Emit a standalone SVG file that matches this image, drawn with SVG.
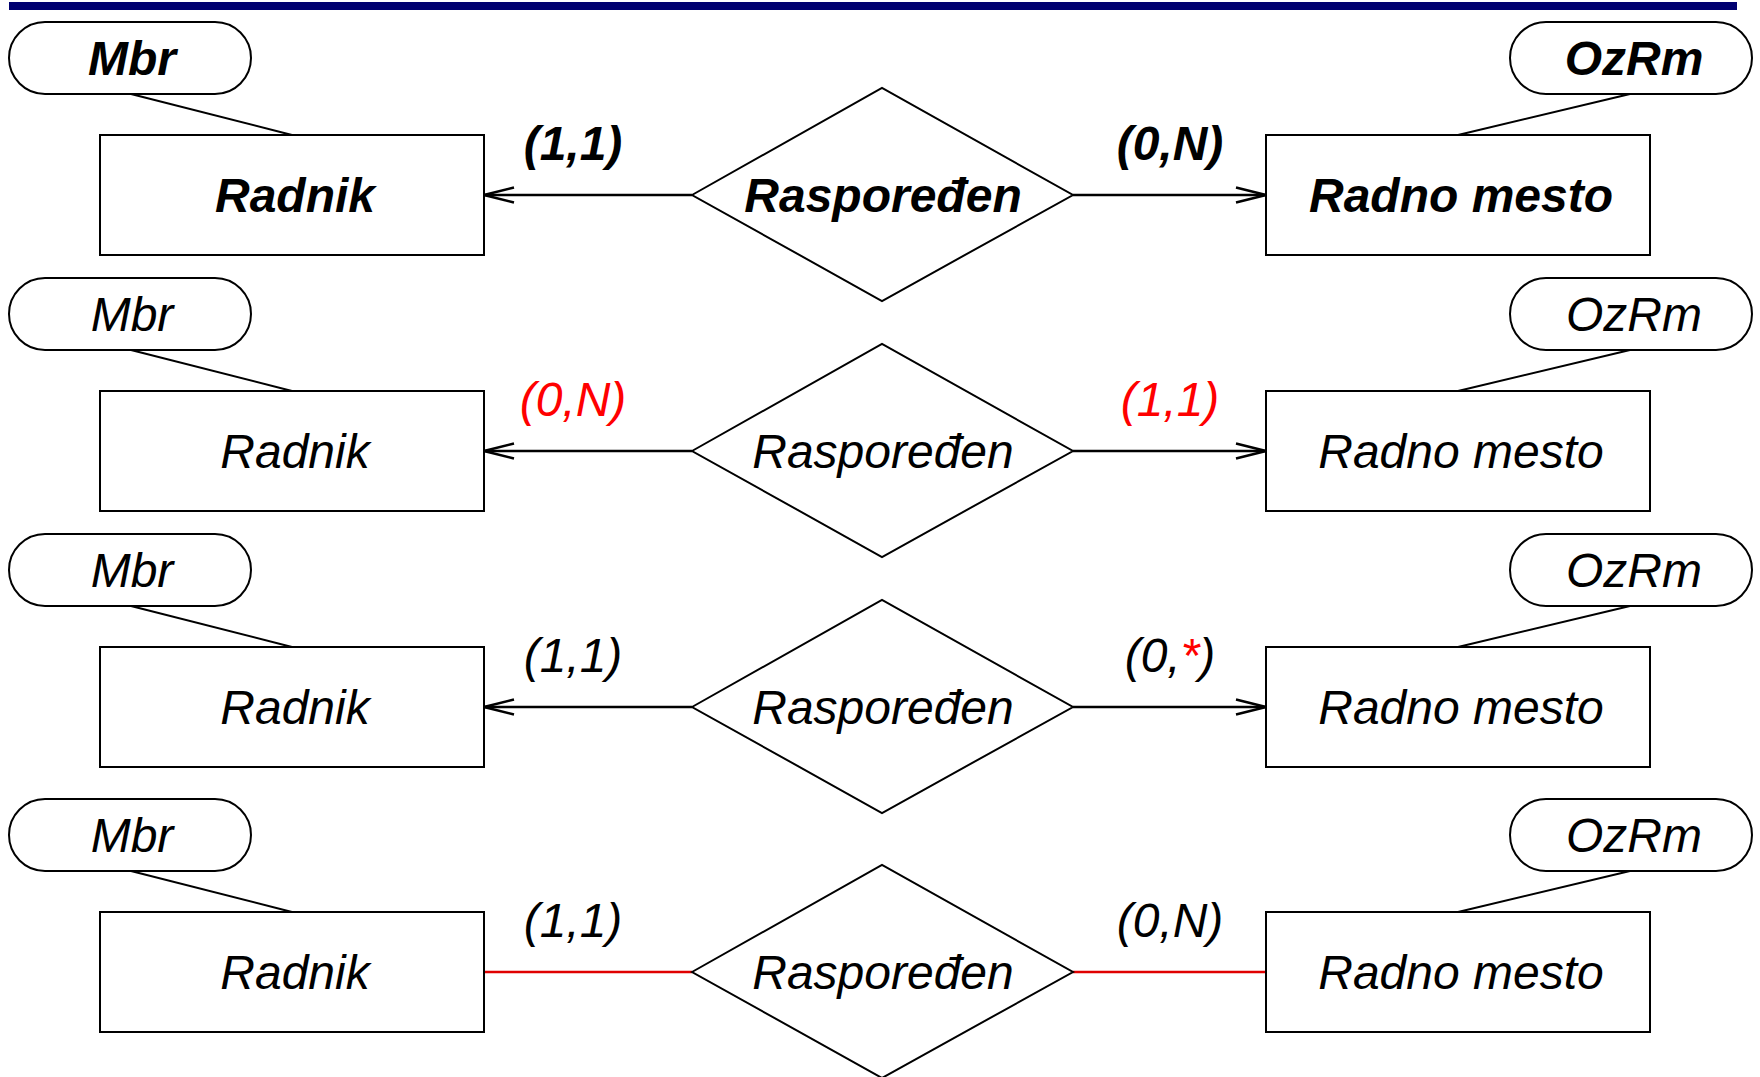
<svg xmlns="http://www.w3.org/2000/svg" width="1760" height="1077" viewBox="0 0 1760 1077">
<style>
text{font-family:"Liberation Sans",Arial,sans-serif;font-style:italic;font-size:48px;fill:#000;text-anchor:middle}
.b{font-weight:bold}
.red{fill:#ff0000}
.box{fill:#fff;stroke:#000;stroke-width:2}
.att{fill:#fff;stroke:#000;stroke-width:2}
.lk{stroke:#000;stroke-width:2;fill:none}
.cn{stroke:#000;stroke-width:2.5;fill:none}
.cr{stroke:#e00000;stroke-width:2.5;fill:none}
</style>
<defs>
<marker id="ar" markerUnits="userSpaceOnUse" markerWidth="34" markerHeight="20" viewBox="-2 -2 34 20" refX="30" refY="7.5" orient="auto" overflow="visible">
<path d="M0,0 L30,7.5 L0,15" fill="none" stroke="#000" stroke-width="2.5"/>
</marker>
</defs>
<rect x="9" y="2" width="1728" height="8" fill="#000070"/>

<g id="connectors">
<g>
<line class="lk" x1="131" y1="94" x2="292" y2="135"/>
<line class="lk" x1="1630" y1="94" x2="1458" y2="135"/>
<line class="cn" x1="692" y1="195" x2="484" y2="195" marker-end="url(#ar)"/>
<line class="cn" x1="1073" y1="195" x2="1266" y2="195" marker-end="url(#ar)"/>
</g>
<g transform="translate(0,256)">
<line class="lk" x1="131" y1="94" x2="292" y2="135"/>
<line class="lk" x1="1630" y1="94" x2="1458" y2="135"/>
<line class="cn" x1="692" y1="195" x2="484" y2="195" marker-end="url(#ar)"/>
<line class="cn" x1="1073" y1="195" x2="1266" y2="195" marker-end="url(#ar)"/>
</g>
<g transform="translate(0,512)">
<line class="lk" x1="131" y1="94" x2="292" y2="135"/>
<line class="lk" x1="1630" y1="94" x2="1458" y2="135"/>
<line class="cn" x1="692" y1="195" x2="484" y2="195" marker-end="url(#ar)"/>
<line class="cn" x1="1073" y1="195" x2="1266" y2="195" marker-end="url(#ar)"/>
</g>
<g transform="translate(0,777)">
<line class="lk" x1="131" y1="94" x2="292" y2="135"/>
<line class="lk" x1="1630" y1="94" x2="1458" y2="135"/>
<line class="cr" x1="692" y1="195" x2="484" y2="195"/>
<line class="cr" x1="1073" y1="195" x2="1266" y2="195"/>
</g>
</g>

<!-- Row 1 -->
<g id="mbr1"><rect class="att" x="9" y="22" width="242" height="72" rx="36"/><text class="b" x="132" y="75">Mbr</text></g>
<g id="radnik1"><rect class="box" x="100" y="135" width="384" height="120"/><text class="b" x="295" y="212">Radnik</text></g>
<g id="rel1"><polygon class="box" points="692,195 882,88 1073,195 882,301"/><text class="b" x="883" y="212">Raspoređen</text></g>
<g id="mesto1"><rect class="box" x="1266" y="135" width="384" height="120"/><text class="b" x="1461" y="212">Radno mesto</text></g>
<g id="ozrm1"><rect class="att" x="1510" y="22" width="242" height="72" rx="36"/><text class="b" x="1634" y="75">OzRm</text></g>
<g id="card1"><text class="b" x="573" y="160">(1,1)</text><text class="b" x="1170" y="160">(0,N)</text></g>

<!-- Row 2 -->
<g id="mbr2" transform="translate(0,256)"><rect class="att" x="9" y="22" width="242" height="72" rx="36"/><text x="132" y="75">Mbr</text></g>
<g id="radnik2" transform="translate(0,256)"><rect class="box" x="100" y="135" width="384" height="120"/><text x="295" y="212">Radnik</text></g>
<g id="rel2" transform="translate(0,256)"><polygon class="box" points="692,195 882,88 1073,195 882,301"/><text x="883" y="212">Raspoređen</text></g>
<g id="mesto2" transform="translate(0,256)"><rect class="box" x="1266" y="135" width="384" height="120"/><text x="1461" y="212">Radno mesto</text></g>
<g id="ozrm2" transform="translate(0,256)"><rect class="att" x="1510" y="22" width="242" height="72" rx="36"/><text x="1634" y="75">OzRm</text></g>
<g id="card2" transform="translate(0,256)"><text class="red" x="573" y="160">(0,N)</text><text class="red" x="1170" y="160">(1,1)</text></g>

<!-- Row 3 -->
<g id="mbr3" transform="translate(0,512)"><rect class="att" x="9" y="22" width="242" height="72" rx="36"/><text x="132" y="75">Mbr</text></g>
<g id="radnik3" transform="translate(0,512)"><rect class="box" x="100" y="135" width="384" height="120"/><text x="295" y="212">Radnik</text></g>
<g id="rel3" transform="translate(0,512)"><polygon class="box" points="692,195 882,88 1073,195 882,301"/><text x="883" y="212">Raspoređen</text></g>
<g id="mesto3" transform="translate(0,512)"><rect class="box" x="1266" y="135" width="384" height="120"/><text x="1461" y="212">Radno mesto</text></g>
<g id="ozrm3" transform="translate(0,512)"><rect class="att" x="1510" y="22" width="242" height="72" rx="36"/><text x="1634" y="75">OzRm</text></g>
<g id="card3" transform="translate(0,512)"><text x="573" y="160">(1,1)</text><text x="1170" y="160">(0,<tspan class="red">*</tspan>)</text></g>

<!-- Row 4 -->
<g id="mbr4" transform="translate(0,777)"><rect class="att" x="9" y="22" width="242" height="72" rx="36"/><text x="132" y="75">Mbr</text></g>
<g id="radnik4" transform="translate(0,777)"><rect class="box" x="100" y="135" width="384" height="120"/><text x="295" y="212">Radnik</text></g>
<g id="rel4" transform="translate(0,777)"><polygon class="box" points="692,195 882,88 1073,195 882,301"/><text x="883" y="212">Raspoređen</text></g>
<g id="mesto4" transform="translate(0,777)"><rect class="box" x="1266" y="135" width="384" height="120"/><text x="1461" y="212">Radno mesto</text></g>
<g id="ozrm4" transform="translate(0,777)"><rect class="att" x="1510" y="22" width="242" height="72" rx="36"/><text x="1634" y="75">OzRm</text></g>
<g id="card4" transform="translate(0,777)"><text x="573" y="160">(1,1)</text><text x="1170" y="160">(0,N)</text></g>
</svg>
